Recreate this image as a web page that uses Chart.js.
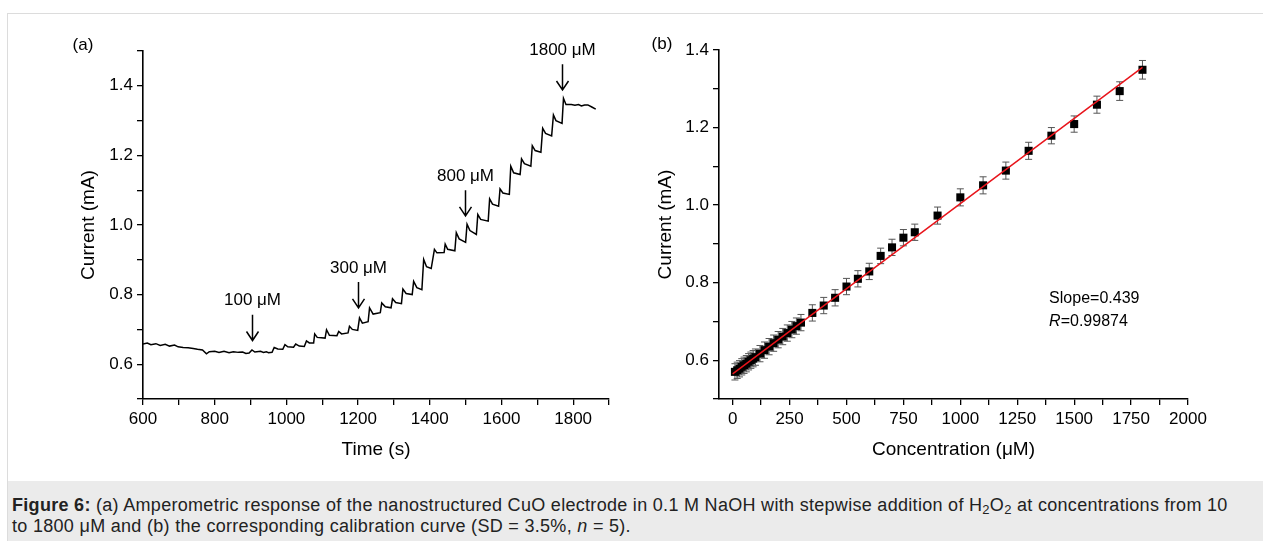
<!DOCTYPE html>
<html>
<head>
<meta charset="utf-8">
<script src="https://cdn.jsdelivr.net/npm/chart.js@4.4.1/dist/chart.umd.min.js"></script>
<style>
  body { margin: 0; width: 1263px; height: 541px; overflow: hidden; background: #fff; position: relative;
         font-family: 'Liberation Sans', Arial, sans-serif; }
  #frame { position: absolute; left: 7px; top: 13px; right: -10px; bottom: -10px; border: 1px solid #dcdcdc; }
  #caption { position: absolute; left: 8px; top: 481px; right: 0; bottom: 0; background: #ebebeb;
             padding: 14px 0 0 4px; font-size: 18px; letter-spacing: 0.3px; line-height: 21px; color: #222;
             white-space: nowrap; }
  #caption sub { font-size: 13px; vertical-align: -3px; line-height: 0; }
  canvas { position: absolute; top: 0; }
  #chartA { left: 0; }
  #chartB { left: 620px; }
</style>
</head>
<body>
<div id="frame"></div>
<canvas id="chartA" width="640" height="480"></canvas>
<canvas id="chartB" width="643" height="480"></canvas>
<div id="caption"><b>Figure 6:</b> (a) Amperometric response of the nanostructured CuO electrode in 0.1 M NaOH with stepwise addition of H<sub>2</sub>O<sub>2</sub> at concentrations from 10<br>to 1800 μM and (b) the corresponding calibration curve (SD = 3.5%, <i>n</i> = 5).</div>

<script>
// ---- Panel (a): current vs time trace ----
const timeS = [
  600, 612, 622, 636, 648, 662, 674, 688, 698, 712, 726, 740, 752, 766, 777, 785, 800, 812, 826, 840,
  852, 866, 878, 887, 896, 904, 912, 928, 936, 944, 950, 960, 966, 976, 990, 996, 1004, 1020, 1026, 1036,
  1050, 1056, 1064, 1076, 1079, 1086, 1108, 1112, 1120, 1141, 1146, 1154, 1172, 1176, 1184, 1199, 1204, 1212, 1228, 1232,
  1242, 1262, 1266, 1276, 1292, 1296, 1305, 1321, 1325, 1334, 1351, 1355, 1364, 1378, 1383, 1391, 1404, 1413, 1420, 1440,
  1443, 1450, 1470, 1474, 1482, 1500, 1504, 1512, 1530, 1534, 1542, 1563, 1567, 1575, 1592, 1596, 1604, 1622, 1626, 1634,
  1652, 1656, 1664, 1682, 1686, 1694, 1710, 1715, 1723, 1740, 1745, 1752, 1769, 1773, 1780, 1795, 1805, 1815, 1823, 1832,
  1841, 1852, 1863
];
const currentA = [
  0.658, 0.661, 0.656, 0.659, 0.654, 0.657, 0.652, 0.655, 0.650, 0.648, 0.647, 0.645, 0.643, 0.641, 0.630, 0.636, 0.637, 0.634, 0.637, 0.633,
  0.636, 0.634, 0.635, 0.631, 0.632, 0.641, 0.635, 0.637, 0.634, 0.636, 0.633, 0.634, 0.648, 0.644, 0.643, 0.656, 0.650, 0.649, 0.658, 0.652,
  0.651, 0.667, 0.661, 0.661, 0.687, 0.677, 0.675, 0.699, 0.683, 0.682, 0.694, 0.687, 0.690, 0.709, 0.700, 0.697, 0.733, 0.718, 0.722, 0.762,
  0.744, 0.748, 0.776, 0.765, 0.762, 0.788, 0.777, 0.774, 0.816, 0.803, 0.800, 0.838, 0.820, 0.814, 0.901, 0.880, 0.875, 0.930, 0.920, 0.921,
  0.945, 0.930, 0.926, 0.978, 0.960, 0.950, 1.002, 0.984, 0.973, 1.030, 1.016, 1.011, 1.075, 1.060, 1.054, 1.104, 1.092, 1.088, 1.169, 1.150,
  1.145, 1.190, 1.176, 1.169, 1.228, 1.214, 1.209, 1.278, 1.263, 1.256, 1.316, 1.300, 1.292, 1.364, 1.346, 1.346, 1.344, 1.346, 1.342, 1.345,
  1.345, 1.339, 1.333
];
const timeTicks = [600, 700, 800, 900, 1000, 1100, 1200, 1300, 1400, 1500, 1600, 1700, 1800, 1900];
const timeLabels = [600, 800, 1000, 1200, 1400, 1600, 1800];
const currentTicksA = [0.5, 0.6, 0.7, 0.8, 0.9, 1.0, 1.1, 1.2, 1.3, 1.4, 1.5];
const currentLabels = [0.6, 0.8, 1.0, 1.2, 1.4];

// addition markers (arrow drawn from tail down to tip, in data units)
const arrowLabels = ['100 μM', '300 μM', '800 μM', '1800 μM'];
const arrowTimes = [904, 1199, 1499, 1768];
const arrowTip = [0.668, 0.762, 1.026, 1.388];
const arrowTail = [0.742, 0.836, 1.100, 1.462];

// ---- Panel (b): calibration curve ----
const concentration = [10, 20, 30, 40, 50, 60, 70, 80, 90, 100, 120, 140, 160, 180, 200, 220, 240, 260, 280, 300,
  350, 400, 450, 500, 550, 600, 650, 700, 750, 800, 900, 1000, 1100, 1200, 1300, 1400, 1500, 1600, 1700, 1800];
const currentB = [0.570, 0.574, 0.578, 0.583, 0.587, 0.591, 0.596, 0.600, 0.604, 0.608, 0.617, 0.626, 0.635, 0.644, 0.653, 0.661, 0.670, 0.679, 0.688, 0.697,
  0.722, 0.741, 0.761, 0.790, 0.810, 0.829, 0.869, 0.891, 0.916, 0.930, 0.973, 1.020, 1.051, 1.089, 1.140, 1.179, 1.209, 1.259, 1.294, 1.349];
const currentErr = [0.021, 0.021, 0.021, 0.021, 0.021, 0.021, 0.021, 0.021, 0.021, 0.021, 0.021, 0.021, 0.021, 0.021, 0.021, 0.021, 0.021, 0.021, 0.021, 0.021,
  0.021, 0.021, 0.021, 0.021, 0.021, 0.021, 0.020, 0.021, 0.021, 0.021, 0.022, 0.022, 0.022, 0.022, 0.022, 0.021, 0.021, 0.022, 0.024, 0.024];
const fitConc = [0, 1800];
const fitCurrent = [0.565, 1.355];
const concTicks = [0, 125, 250, 375, 500, 625, 750, 875, 1000, 1125, 1250, 1375, 1500, 1625, 1750, 1875, 2000];
const concLabels = [0, 250, 500, 750, 1000, 1250, 1500, 1750, 2000];
const currentTicksB = [0.5, 0.6, 0.7, 0.8, 0.9, 1.0, 1.1, 1.2, 1.3, 1.4];

const FONT = "'Liberation Sans', Arial, sans-serif";
Chart.defaults.font.family = FONT;
Chart.defaults.font.size = 17;
Chart.defaults.color = '#000';

const zip = (xs, ys) => xs.map((x, i) => ({ x, y: ys[i] }));
const hasLabel = (labels, v) => labels.some(l => Math.abs(l - v) < 1e-6);

// Origin-style axis: only tick marks outside, no grid inside the plot
function axis(min, max, ticks, labels, fmt, title, boxSize, horizontal) {
  return {
    type: 'linear', min, max,
    afterBuildTicks: s => { s.ticks = ticks.map(v => ({ value: v })); },
    afterFit: s => { if (horizontal) s.height = boxSize; else s.width = boxSize; },
    grid: { drawOnChartArea: false, drawTicks: true, tickLength: 6, color: '#000', lineWidth: 1.3 },
    border: { display: true, color: '#000', width: 1.6 },
    ticks: { autoSkip: false, maxRotation: 0, padding: 4, color: '#000',
             callback: v => hasLabel(labels, v) ? fmt(v) : '' },
    title: { display: true, text: title, color: '#000', padding: 0, font: { size: 19 } }
  };
}

const baseOptions = {
  responsive: false, animation: false, devicePixelRatio: 1,
  plugins: { legend: { display: false }, tooltip: { enabled: false } }
};

// arrows + panel letter for (a)
const annotateA = {
  id: 'annotateA',
  afterDraw(chart) {
    const { ctx, chartArea, scales: { x, y } } = chart;
    ctx.save();
    ctx.strokeStyle = '#000'; ctx.fillStyle = '#000'; ctx.lineWidth = 1.5;
    ctx.font = '17px ' + FONT; ctx.textAlign = 'center'; ctx.textBaseline = 'middle';
    arrowLabels.forEach((label, i) => {
      const px = Math.round(x.getPixelForValue(arrowTimes[i])) + 0.5;
      const tip = y.getPixelForValue(arrowTip[i]);
      const tail = y.getPixelForValue(arrowTail[i]);
      ctx.beginPath();
      ctx.moveTo(px, tail); ctx.lineTo(px, tip);
      ctx.moveTo(px - 6, tip - 9); ctx.lineTo(px, tip); ctx.lineTo(px + 6, tip - 9);
      ctx.stroke();
      ctx.fillText(label, px, tail - 14);
    });
    ctx.fillText('(a)', chartArea.left - 60, chartArea.top - 6);
    ctx.restore();
  }
};

// error bars under the markers, fit stats + panel letter for (b)
const annotateB = {
  id: 'annotateB',
  beforeDatasetsDraw(chart) {
    const { ctx, scales: { x, y } } = chart;
    ctx.save();
    ctx.strokeStyle = '#555'; ctx.lineWidth = 1;
    concentration.forEach((c, i) => {
      const px = x.getPixelForValue(c);
      const hi = y.getPixelForValue(currentB[i] + currentErr[i]);
      const lo = y.getPixelForValue(currentB[i] - currentErr[i]);
      ctx.beginPath();
      ctx.moveTo(px, hi); ctx.lineTo(px, lo);
      ctx.moveTo(px - 3.5, hi); ctx.lineTo(px + 3.5, hi);
      ctx.moveTo(px - 3.5, lo); ctx.lineTo(px + 3.5, lo);
      ctx.stroke();
    });
    ctx.restore();
  },
  afterDraw(chart) {
    const { ctx, chartArea, scales: { x, y } } = chart;
    ctx.save();
    ctx.fillStyle = '#000'; ctx.textBaseline = 'middle';
    ctx.font = '17px ' + FONT; ctx.textAlign = 'center';
    ctx.fillText('(b)', chartArea.left - 57, chartArea.top - 6);
    ctx.textAlign = 'left';
    ctx.font = '16px ' + FONT;
    const tx = x.getPixelForValue(1390), ty = y.getPixelForValue(0.76);
    ctx.fillText('Slope=0.439', tx, ty);
    ctx.font = 'italic 16px ' + FONT;
    ctx.fillText('R', tx, ty + 23);
    const rw = ctx.measureText('R').width;
    ctx.font = '16px ' + FONT;
    ctx.fillText('=0.99874', tx + rw, ty + 23);
    ctx.restore();
  }
};

new Chart(document.getElementById('chartA'), {
  type: 'scatter',
  data: {
    datasets: [{
      data: zip(timeS, currentA), showLine: true, tension: 0,
      borderColor: '#000', borderWidth: 1.5, pointRadius: 0
    }]
  },
  options: {
    ...baseOptions,
    layout: { padding: { left: 77, top: 51, right: 31, bottom: 19 } },
    scales: {
      x: axis(600, 1900, timeTicks, timeLabels, v => String(v), 'Time (s)', 62, true),
      y: axis(0.5, 1.5, currentTicksA, currentLabels, v => v.toFixed(1), 'Current (mA)', 66, false)
    }
  },
  plugins: [annotateA]
});

new Chart(document.getElementById('chartB'), {
  type: 'scatter',
  data: {
    datasets: [
      { data: zip(fitConc, fitCurrent), showLine: true, borderColor: '#e8141b', borderWidth: 1.5, pointRadius: 0 },
      { data: zip(concentration, currentB), pointStyle: 'rect', pointRadius: 5.7,
        backgroundColor: '#000', borderColor: '#000', borderWidth: 0 }
    ]
  },
  options: {
    ...baseOptions,
    layout: { padding: { left: 34, top: 50, right: 75, bottom: 19 } },
    scales: {
      x: axis(-60, 2000, concTicks, concLabels, v => String(v), 'Concentration (μM)', 62, true),
      y: axis(0.5, 1.4, currentTicksB, currentLabels, v => v.toFixed(1), 'Current (mA)', 65, false)
    }
  },
  plugins: [annotateB]
});
</script>
</body>
</html>
